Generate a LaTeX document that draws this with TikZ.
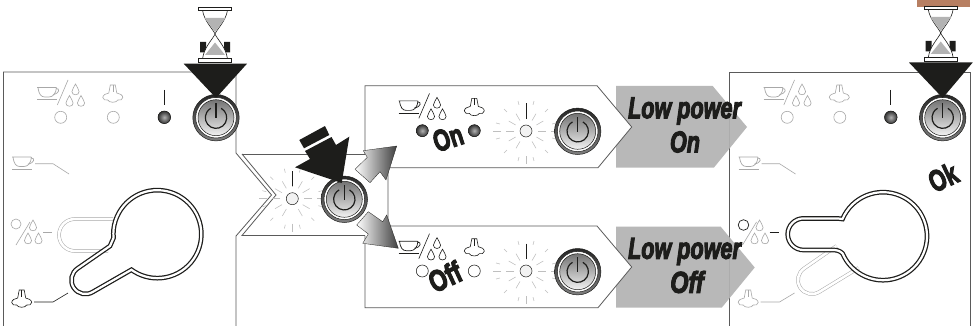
\documentclass[tikz,border=0pt]{standalone}
\usepackage{fontspec}
\setmainfont{Liberation Sans}
\newfontfamily\heavy[BoldFeatures={FakeBold=4},BoldItalicFeatures={FakeBold=4}]{Liberation Sans}
\newcommand\bigtxt[3]{\scalebox{#1}[1]{\fontsize{#2}{#2}\selectfont\heavy\bfseries #3}}
\newcommand\bigit[3]{\scalebox{#1}[1]{\fontsize{#2}{#2}\selectfont\heavy\bfseries\itshape #3}}
\definecolor{ink}{HTML}{1D1D1B}
\definecolor{faint}{HTML}{A8A8A8}
\definecolor{panelline}{HTML}{5A5A5A}
\definecolor{graybox}{HTML}{B3B3B3}
\definecolor{brown}{HTML}{B77F62}
\tikzset{
  panel/.style={draw=panelline,line width=.8pt,fill=white},
  thinfaint/.style={draw=faint,line width=.6pt},
  keyhole/.style={draw=ink,line width=1.25pt,double=white,double distance=2.2pt},
  ghost/.style={draw=faint,line width=.5pt,double=white,double distance=2.6pt},
  ledon/.style={draw=ink,line width=.5pt,inner color=gray!60,outer color=black!80},
  ray/.style={draw=black!25,line width=.55pt},
  tick/.style={draw=ink,line width=.8pt},
  growarrow/.style={draw=ink,line width=.3pt,left color=white,right color=black!75},
  boxarrow/.style={fill=graybox,draw=none,opacity=.93}
}
\newcommand\cupicon[3]{\begin{scope}[shift={(#1,#2)},draw=#3,line width=.7pt]
 \draw (0,0) -- (19,0) (1,0) .. controls (2,7) and (4,9.5) .. (8,9.5) -- (12,9.5) .. controls (16,9.5) and (19,6) .. (19.5,0);
 \draw (19,1) .. controls (23,.5) and (23,6) .. (16,7);
 \draw (0,12) -- (20,12);
\end{scope}}
\newcommand\dropicon[3]{\draw[#3,line width=.6pt,shift={(#1,#2)}] (0,-6) .. controls (-1,-3) and (-3.6,-1) .. (-3.6,1.6) .. controls (-3.6,5.8) and (3.6,5.8) .. (3.6,1.6) .. controls (3.6,-1) and (1,-3) .. cycle;}
\newcommand\steamicon[3]{\begin{scope}[shift={(#1,#2)},draw=#3,line width=.6pt]
 \draw (-2.5,-10) -- (-4,-2) .. controls (-7,-2) and (-10,.5) .. (-10,2.5) .. controls (-10,5) and (-7,5.5) .. (-5,5) .. controls (-4,8) and (4,8) .. (5,5) .. controls (7,5.5) and (10,5) .. (10,2.5) .. controls (10,.5) and (7,-2) .. (4,-2) -- (2.5,-10) -- cycle;
 \draw (0,-10) -- (0,-3);
\end{scope}}
\newcommand\toprow[1]{%
 \cupicon{37}{87.5}{#1}
 \draw[#1,line width=.6pt] (57.3,105) -- (68,80);
 \dropicon{75.5}{90}{#1}\dropicon{69.5}{101.5}{#1}\dropicon{81}{101.5}{#1}
 \steamicon{112.8}{95}{#1}}
\newcommand\pbutton[2]{\begin{scope}[shift={(#1,#2)}]
 \shade[top color=black!85,bottom color=black!50,draw=ink,line width=.5pt] (0,0) circle[radius=23.2];
 \filldraw[fill=white,draw=ink,line width=.5pt] (0,0) circle[radius=20.3];
 \shade[top color=black!55,bottom color=black!5,draw=ink,line width=.5pt] (0,0) circle[radius=18];
 \draw[ink,line width=1.2pt] (5.2,-9.4) arc[start angle=-61,end angle=241,radius=10.7];
 \draw[ink,line width=1.2pt] (0,-14.5) -- (0,.5);
\end{scope}}
\newcommand\rays[2]{\begin{scope}[shift={(#1,#2)}]
 \foreach \a in {0,30,60,120,150,180,210,240,270,300,330} \draw[ray] (\a:12) -- (\a:20);
 \foreach \a in {15,45,75,105,135,165,195,225,255,285,315,345} \draw[ray] (\a:27) -- (\a:31);
 \foreach \a in {0,180,90} \draw[ray] (\a:25) -- (\a:33);
 \draw[tick] (0,-27.5) -- (0,-12.5);
 \filldraw[draw=ink,line width=.5pt,fill=black!5] (0,0) circle[radius=6];
\end{scope}}
\newcommand\hourglass[2]{\begin{scope}[shift={(#1,#2)}]
 \fill[ink] (-15,35) rectangle (-9,45.5) (9,35) rectangle (15,45.5);
 \filldraw[fill=white,draw=ink,line width=.6pt] (-12.5,3) .. controls (-11,14) and (-2,22) .. (0,27) .. controls (-2,32) and (-11,40) .. (-12.5,52) -- (12.5,52) .. controls (11,40) and (2,32) .. (0,27) .. controls (2,22) and (11,14) .. (12.5,3) -- cycle;
 \fill[graybox] (-10.5,11) -- (10.5,11) -- (0,25) -- cycle;
 \fill[graybox] (-10,48) -- (10,48) -- (0,35.5) -- cycle;
 \filldraw[fill=white,draw=ink,line width=.6pt] (-16.5,0) rectangle (16.5,3);
 \filldraw[fill=white,draw=ink,line width=.6pt] (-16.5,51.5) rectangle (16.5,55);
\end{scope}}
\begin{document}
\begin{tikzpicture}[x=1pt,y=-1pt]
\useasboundingbox (0,0) rectangle (973,326);
\clip (0,0) rectangle (973,326);
\fill[white] (0,0) rectangle (973,326);
\draw[panel] (729.7,326) -- (729.7,72) -- (970.7,72) -- (970.7,326);
\fill[boxarrow] (616,86) -- (712.7,86) -- (747,127) -- (714,167.5) -- (616,167.5) -- cycle;
\fill[boxarrow] (616,226.7) -- (720.7,226.7) -- (754.7,267.5) -- (721.7,307.7) -- (616,307.7) -- cycle;
\draw[panel] (3.5,326) -- (3.5,72) -- (236,72) -- (236,153) -- (271.5,195) -- (236,236) -- (236,326);
\draw[panelline,line width=.8pt] (242,154) -- (276,195) -- (242,235.5) -- (365,235.5);
\draw[panelline,line width=.8pt] (242,154) -- (365,154);
\draw[panel] (365,154) -- (365,85.7) -- (597,85.7) -- (631.7,127) -- (598,167.7) -- (388,167.7) -- (388,226) -- (597,226) -- (631.7,267) -- (598,307.7) -- (365,307.7) -- (365,235.5);
\toprow{faint}
\draw[thinfaint] (60.7,117.3) circle[radius=6] (113.3,117.3) circle[radius=6];
\draw[tick] (164.3,90) -- (164.3,105);
\filldraw[ledon] (164.3,117.3) circle[radius=6.3];
\cupicon{12}{157}{faint}
\draw[thinfaint] (35,163.7) -- (53,163.7) -- (69,174);
\draw[thinfaint] (16,224) circle[radius=5];
\draw[thinfaint] (16,245) -- (30,222);
\dropicon{33}{226}{faint}\dropicon{28}{239}{faint}\dropicon{38.5}{239}{faint}
\draw[thinfaint] (43,232) -- (52,232);
\draw[ghost] (113,219) -- (75,219) arc[start angle=270,end angle=90,radius=16] -- (108,251);
\steamicon{21.7}{300}{ink}
\draw[ink,line width=.6pt] (34,302) -- (53,302) -- (68,293);
\draw[keyhole] (113.5,238) arc[start angle=175,end angle=486,radius=44] -- (93,291.8) arc[start angle=57.3,end angle=237.3,radius=14] -- (110,246) -- cycle;
\begin{scope}[shift={(726.5,0)}]
\toprow{faint}
\draw[thinfaint] (60.7,117.3) circle[radius=6] (113.3,117.3) circle[radius=6];
\draw[tick] (164.3,90) -- (164.3,105);
\filldraw[ledon] (164.3,117.3) circle[radius=6.3];
\cupicon{12}{157}{faint}
\draw[thinfaint] (35,163.7) -- (53,163.7) -- (69,174);
\draw[ink,line width=.7pt] (17,225) circle[radius=5.3];
\draw[thinfaint] (16,245) -- (30,222);
\dropicon{33}{226}{faint}\dropicon{28}{239}{faint}\dropicon{38.5}{239}{faint}
\draw[ink,line width=.7pt] (43,232) -- (52,232);
\steamicon{21.7}{300}{faint}
\draw[thinfaint] (34,302) -- (53,302) -- (68,293);
\draw[ghost] (132,268) -- (93,291.8) arc[start angle=57.3,end angle=237.3,radius=14] -- (110,246);
\draw[keyhole] (116,219) arc[start angle=203,end angle=517,radius=44] .. controls (113,250.5) and (110,250) .. (106,250) -- (77,250) arc[start angle=90,end angle=270,radius=15.8] -- (106,218.4) .. controls (110,218.4) and (113,218.4) .. cycle;
\end{scope}
\begin{scope}[shift={(361.5,13.4)}]\toprow{ink}\end{scope}
\filldraw[ledon] (422.3,130.7) circle[radius=6];
\filldraw[ledon] (474.3,130.7) circle[radius=6];
\begin{scope}[shift={(361.5,153.7)}]\toprow{ink}\end{scope}
\draw[ink,line width=.55pt,fill=white] (422.3,271) circle[radius=6] (474.3,271) circle[radius=6];
\rays{526}{131}
\rays{526}{271}
\rays{292.3}{198.7}
\pbutton{216}{117.7}
\pbutton{942.7}{117.7}
\pbutton{344.3}{199.3}
\pbutton{577.7}{131.3}
\pbutton{577.7}{271.7}
\fill[brown] (917,0) rectangle (970.3,7);
\hourglass{215}{7}
\hourglass{940.7}{6}
\fill[ink] (183.7,63.7) -- (247,63.7) -- (216,98) -- cycle;
\fill[ink] (909,62.5) -- (972.7,62.5) -- (942.7,98) -- cycle;
\fill[ink] (299.3,140) -- (325,126) -- (329.3,135) -- (304,148.3) -- cycle;
\fill[ink] (341.7,183) -- (349.3,136.7) -- (336,145) -- (331.5,137) -- (305,151) -- (310,159) -- (295,167.3) -- cycle;
\draw[growarrow] (396.7,146) -- (363.3,150.7) -- (367.3,157.3) -- (355,169.3) -- (370,182.7) -- (380,171.7) -- (386,180) -- cycle;
\draw[growarrow] (398.3,248.3) -- (386.7,215) -- (382.7,221.7) -- (368.3,211.7) -- (356.7,225) -- (368.3,234) -- (362.7,243.3) -- cycle;
\node[ink,inner sep=0pt] (lp1) at (684.5,111) {\bigit{.72}{30}{Low power}};
\node[ink,inner sep=0pt] (on1) at (685,142) {\bigit{.72}{30}{On}};
\node[ink,inner sep=0pt] (lp2) at (684.5,251.5) {\bigit{.72}{30}{Low power}};
\node[ink,inner sep=0pt] (off1) at (687,282) {\bigit{.78}{30}{Off}};
\node[ink,inner sep=0pt,rotate=18] (on2) at (448,138) {\bigtxt{.72}{30}{On}};
\node[ink,inner sep=0pt,rotate=25] (off2) at (445,276.7) {\bigtxt{.76}{30}{Off}};
\node[ink,inner sep=0pt,rotate=25] (ok) at (943,177.3) {\bigtxt{.72}{30}{Ok}};
\end{tikzpicture}
\end{document}
